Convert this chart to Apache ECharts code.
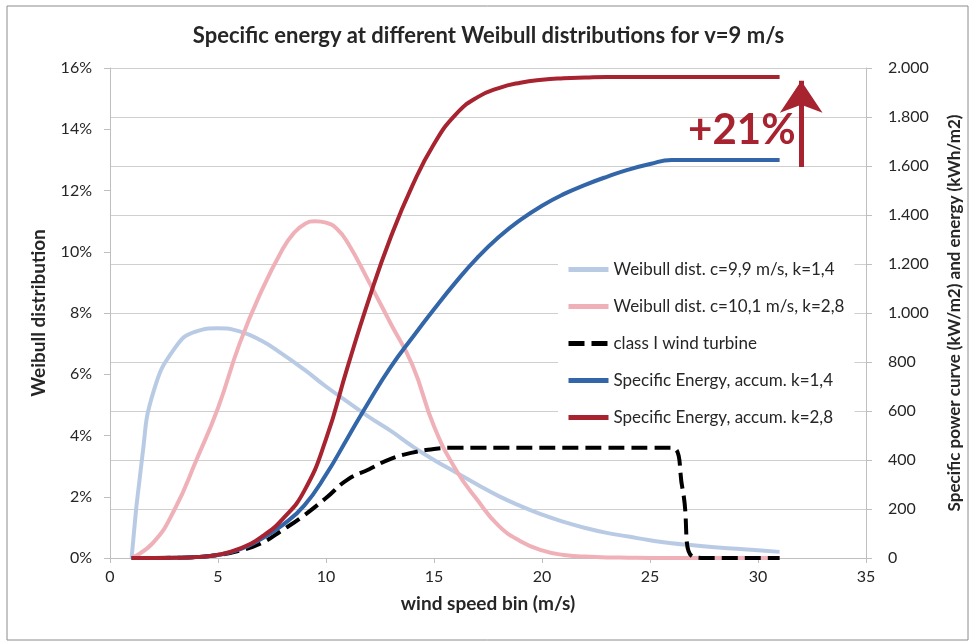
<!DOCTYPE html>
<html>
<head>
<meta charset="utf-8">
<script src="https://cdn.jsdelivr.net/npm/echarts@6/dist/echarts.min.js"></script>
<style>html,body{margin:0;padding:0;background:#fff;}#c{width:977px;height:644px;}</style>
</head>
<body>
<div id="c"></div>
<script>
// wind speed bins (m/s)
const windSpeed = [1,2,3,4,5,6,7,8,9,10,11,12,13,14,15,16,17,18,19,20,21,22,23,24,25,26,27,28,29,30,31];
// Weibull distribution c=9,9 k=1,4 (%), read at a finer step near the start
const weibullK14Speed = [1,1.5,2,3,4,5,6,7,8,9,10,11,12,13,14,15,16,17,18,19,20,21,22,23,24,25,26,27,28,29,30,31];
const weibullK14 = [0,3.35,5.4,6.85,7.4,7.5,7.4,7.1,6.65,6.15,5.6,5.1,4.6,4.15,3.65,3.2,2.8,2.4,2.02,1.7,1.42,1.18,0.98,0.82,0.7,0.58,0.48,0.42,0.35,0.3,0.25,0.2];
// Weibull distribution c=10,1 k=2,8 (%), read at finer steps near the peak
const weibullK28Speed = [1,2,3,4,5,6,7,8,8.5,9,9.5,10,10.5,11,12,13,14,15,16,17,18,19,20,21,22,23,24,25,26,27,28,29,30,31];
const weibullK28 = [0,0.5,1.6,3.2,4.9,7.0,8.7,10.1,10.6,10.9,11.0,10.95,10.75,10.3,9.0,7.65,6.3,4.3,2.9,1.9,1.05,0.55,0.25,0.1,0.05,0.02,0.01,0,0,0,0,0,0,0];
// class I wind turbine specific power curve (W/m2)
const powerSpeed = [1,2,3,4,5,6,7,8,9,10,11,12,13,14,15,16,17,18,19,20,21,22,23,24,25,26,26.5,27,28,29,30,31];
const powerCurve = [0,0,1,4,12,30,60,115,175,245,320,362,405,430,445,450,450,450,450,450,450,450,450,450,450,450,285,5,0,0,0,0];
// accumulated specific energy (kWh/m2)
const energyK14 = [0,0,1,4,12,35,78,135,215,340,490,640,780,900,1015,1125,1225,1310,1380,1438,1485,1523,1556,1585,1608,1625,1625,1625,1625,1625,1625];
const energyK28 = [0,0,1,4,13,38,85,160,275,485,780,1060,1310,1520,1690,1810,1880,1918,1940,1952,1958,1961,1963,1963,1963,1963,1963,1963,1963,1963,1963];
// axis ticks
const xTicks = {min:0, max:35, interval:5};
const leftTicks = {min:0, max:16, interval:2};
const rightTicks = {min:0, max:2000, interval:200};
const seriesNames = ['Weibull dist. c=9,9 m/s, k=1,4','Weibull dist. c=10,1 m/s, k=2,8','class I wind turbine','Specific Energy, accum. k=1,4','Specific Energy, accum. k=2,8'];
const annotation = {text:'+21%', x:29.25, y:1747, arrowX:32, arrowFrom:1596, arrowTo:1948};

const pair = (xs, vals) => xs.map((x,i)=>[x, vals[i]]);
const FONT = 'Lato, "Open Sans", "Noto Sans", sans-serif';
const txt = '#262626';

const chart = echarts.init(document.getElementById('c'));
const mk = (name, xs, vals, color, axis, extra) => Object.assign({
  name, type:'line', yAxisIndex:axis, data:pair(xs, vals), smooth:0.5, symbol:'none', showSymbol:false,
  lineStyle:{color, width:4}, itemStyle:{color}
}, extra||{});

chart.setOption({
  animation:false,
  textStyle:{fontFamily:FONT},
  graphic:[{type:'rect', shape:{x:7,y:6,width:961,height:634}, style:{fill:'none', stroke:'#8c8c8c', lineWidth:1}, silent:true}],
  title:{text:'Specific energy at different Weibull distributions for v=9 m/s', left:'center', top:20,
    textStyle:{fontFamily:FONT, fontSize:22, fontWeight:'bold', color:txt}},
  grid:{left:110, right:111, top:68, bottom:86, containLabel:false},
  legend:{orient:'vertical', left:558, top:257, itemWidth:40, itemHeight:14, itemGap:20,
    padding:[4,10,4,8], backgroundColor:'#fff', itemStyle:{opacity:0}, lineStyle:{width:5},
    textStyle:{fontFamily:FONT, fontSize:17, lineHeight:14, color:txt}, data:seriesNames},
  xAxis:{type:'value', min:xTicks.min, max:xTicks.max, interval:xTicks.interval,
    name:'wind speed bin (m/s)', nameLocation:'middle', nameGap:36,
    nameTextStyle:{fontFamily:FONT, fontSize:19, fontWeight:'bold', color:txt},
    axisLine:{lineStyle:{color:'#bfbfbf'}}, axisTick:{show:true, length:5, lineStyle:{color:'#bfbfbf'}},
    axisLabel:{fontFamily:FONT, fontSize:16, color:txt, margin:11}, splitLine:{show:false}},
  yAxis:[
    {type:'value', min:leftTicks.min, max:leftTicks.max, interval:leftTicks.interval, position:'left',
     name:'Weibull distribution', nameLocation:'middle', nameGap:62, nameRotate:90,
     nameTextStyle:{fontFamily:FONT, fontSize:19, fontWeight:'bold', color:txt},
     axisLine:{show:true, lineStyle:{color:'#bfbfbf'}}, axisTick:{show:true, length:6, lineStyle:{color:'#bfbfbf'}},
     axisLabel:{fontFamily:FONT, fontSize:16, color:txt, margin:18, formatter:v=>v+'%'}, splitLine:{show:false}},
    {type:'value', min:rightTicks.min, max:rightTicks.max, interval:rightTicks.interval, position:'right',
     name:'Specific power curve (kW/m2) and energy (kWh/m2)', nameLocation:'middle', nameGap:80, nameRotate:90,
     nameTextStyle:{fontFamily:FONT, fontSize:17, fontWeight:'bold', color:txt},
     axisLine:{show:true, lineStyle:{color:'#bfbfbf'}}, axisTick:{show:true, length:6, lineStyle:{color:'#bfbfbf'}},
     axisLabel:{fontFamily:FONT, fontSize:16, color:txt, margin:22,
       formatter:v=> v>=1000 ? (v/1000).toFixed(3) : String(v)},
     splitLine:{show:true, lineStyle:{color:'#cfcfcf', width:1}}}
  ],
  series:[
    mk(seriesNames[0], weibullK14Speed, weibullK14, '#b9cbe4', 0),
    mk(seriesNames[1], weibullK28Speed, weibullK28, '#efb0b8', 0),
    mk(seriesNames[2], powerSpeed, powerCurve, '#000000', 1, {lineStyle:{color:'#000', width:4, type:[16,7]}}),
    mk(seriesNames[3], windSpeed, energyK14, '#3266a8', 1),
    mk(seriesNames[4], windSpeed, energyK28, '#a6232f', 1, {
      markLine:{silent:true, symbol:['none','arrow'], symbolSize:[32,32],
        lineStyle:{color:'#a6232f', width:5, type:'solid'}, label:{show:false},
        data:[[{coord:[annotation.arrowX, annotation.arrowFrom]},{coord:[annotation.arrowX, annotation.arrowTo]}]]},
      markPoint:{silent:true, symbol:'rect', symbolSize:1, itemStyle:{color:'rgba(0,0,0,0)'},
        label:{show:true, position:'inside', formatter:annotation.text, fontFamily:FONT, fontSize:42, fontWeight:'bold', color:'#a6232f'},
        data:[{coord:[annotation.x, annotation.y]}]}
    })
  ]
});
</script>
</body>
</html>
